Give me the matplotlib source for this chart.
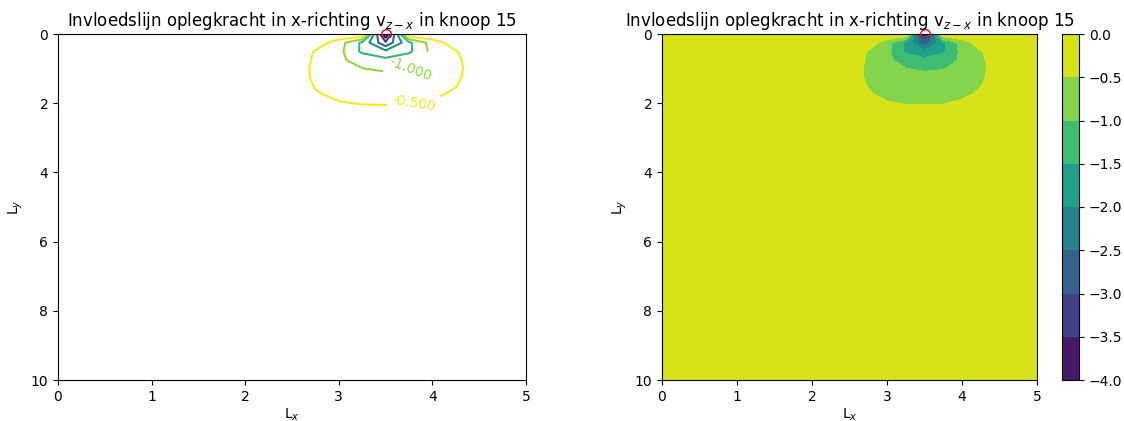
import numpy as np
import matplotlib
matplotlib.use("Agg")
import matplotlib.pyplot as plt
from matplotlib.patches import Rectangle

# plate mesh (nodes every 0.25)
x_nodes = np.linspace(0.0, 5.0, 21)
y_nodes = np.linspace(0.0, 10.0, 41)

# influence values near node 15, block x = 2.5 .. 4.5, y = 0 .. 2.5
block_x = [2.5, 2.75, 3.0, 3.25, 3.5, 3.75, 4.0, 4.25, 4.5]
block_y = [0.0, 0.25, 0.5, 0.75, 1.0, 1.25, 1.5, 1.75, 2.0, 2.25, 2.5]
block_values = [
    [-0.02, -0.02, -0.02, -0.02, -3.95, -0.02, -0.02, -0.02, -0.02],
    [-0.10, -0.21, -0.77, -1.60, -2.90, -1.60, -0.77, -0.21, -0.10],
    [-0.20, -0.53, -0.85, -1.60, -1.90, -1.60, -0.85, -0.53, -0.20],
    [-0.25, -0.56, -0.93, -1.15, -1.37, -1.15, -0.95, -0.58, -0.25],
    [-0.30, -0.57, -0.80, -0.99, -1.08, -1.02, -0.85, -0.59, -0.30],
    [-0.31, -0.56, -0.70, -0.80, -0.85, -0.82, -0.72, -0.56, -0.31],
    [-0.30, -0.52, -0.62, -0.70, -0.72, -0.70, -0.62, -0.51, -0.28],
    [-0.22, -0.47, -0.56, -0.60, -0.62, -0.60, -0.55, -0.45, -0.20],
    [-0.15, -0.38, -0.48, -0.515, -0.52, -0.51, -0.46, -0.33, -0.15],
    [-0.12, -0.30, -0.37, -0.41, -0.42, -0.41, -0.37, -0.30, -0.12],
    [-0.10, -0.22, -0.30, -0.33, -0.34, -0.33, -0.30, -0.22, -0.10],
]
background_value = -0.02
node_x = 3.5
node_y = 0.0
inner_levels = [-3.5, -3.0, -2.5, -2.0, -1.5]
label_levels = [-1.0, -0.5]
label_spots = [(3.75, 0.9), (3.8, 1.95)]
title = "Invloedslijn oplegkracht in x-richting v$_{z-x}$ in knoop 15"

Z = np.full((len(y_nodes), len(x_nodes)), background_value)
ix0 = int(np.argmin(np.abs(x_nodes - block_x[0])))
iy0 = int(np.argmin(np.abs(y_nodes - block_y[0])))
bv = np.array(block_values)
Z[iy0:iy0 + bv.shape[0], ix0:ix0 + bv.shape[1]] = bv
X, Y = np.meshgrid(x_nodes, y_nodes)

fig = plt.figure(figsize=(11.24, 4.21), dpi=100)
ax1 = fig.add_axes([58 / 1124, 1 - 380 / 421, 468 / 1124, 346 / 421])
ax2 = fig.add_axes([662 / 1124, 1 - 380 / 421, 375 / 1124, 346 / 421])
cax = fig.add_axes([1062 / 1124, 1 - 380 / 421, 17 / 1124, 346 / 421])


def node_marker(ax):
    (ln,) = ax.plot([node_x], [node_y], "o", mfc="none", mec="red", ms=7,
                    mew=1.0, zorder=3)
    ln.set_clip_box(None)
    ln.set_clip_path(Rectangle((0, 0.992), 1, 0.2, transform=ax.transAxes))


# left: contour lines
line_norm = plt.Normalize(min(inner_levels), max(label_levels))
cs_in = ax1.contour(X, Y, Z, levels=inner_levels, norm=line_norm)
cs_out = ax1.contour(X, Y, Z, levels=label_levels, norm=line_norm)
ax1.clabel(cs_out, inline=True, fontsize=10, fmt="%1.3f", manual=label_spots)
node_marker(ax1)
ax1.set_xlim(0, 5)
ax1.set_ylim(10, 0)
ax1.set_title(title)
ax1.set_xlabel("L$_x$", labelpad=2)
ax1.set_ylabel("L$_y$")

# right: filled contours
cf = ax2.contourf(X, Y, Z)
node_marker(ax2)
ax2.set_xlim(0, 5)
ax2.set_ylim(10, 0)
ax2.set_title(title)
ax2.set_xlabel("L$_x$", labelpad=2)
ax2.set_ylabel("L$_y$")
fig.colorbar(cf, cax=cax)

fig.savefig("out.png", dpi=100)
